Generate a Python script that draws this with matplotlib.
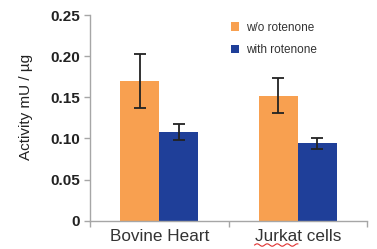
import numpy as np
import matplotlib
matplotlib.use("Agg")
import matplotlib.pyplot as plt

# --- Data ---
categories = ["Bovine Heart", "Jurkat cells"]
series_names = ["w/o rotenone", "with rotenone"]
without_rot = [0.170, 0.152]
without_err = [0.033, 0.021]
with_rot = [0.108, 0.094]
with_err = [0.010, 0.0065]
yticks = [0, 0.05, 0.10, 0.15, 0.20, 0.25]
ytick_labels = ["0", "0.05", "0.10", "0.15", "0.20", "0.25"]

orange = "#F8A050"
blue = "#1F3F99"
gray = "#A6A6A6"

plt.rcParams["font.family"] = ["Liberation Sans", "DejaVu Sans"]

fig = plt.figure(figsize=(3.77, 2.49), dpi=100)
ax = fig.add_axes([0.2387, 0.1137, 0.735, 0.826])

x = np.arange(len(categories))
w = 0.28
ax.bar(x - w / 2, without_rot, w, color=orange, label=series_names[0],
       yerr=without_err, error_kw=dict(ecolor="#222222", elinewidth=1.3, capsize=4.5, capthick=1.3))
ax.bar(x + w / 2, with_rot, w, color=blue, label=series_names[1],
       yerr=with_err, error_kw=dict(ecolor="#222222", elinewidth=1.3, capsize=4.5, capthick=1.3))

ax.set_xlim(-0.5, len(categories) - 0.5)
ax.set_ylim(0, 0.25)
ax.set_yticks(yticks)
ax.set_yticklabels(ytick_labels, fontsize=11, fontweight="bold", color="#222222")
ax.set_xticks(x)
ax.set_xticklabels(categories, fontsize=12.3, color="#333333")
ax.tick_params(axis="x", which="major", length=0, pad=6)
ax.set_xticks(np.arange(-0.5, len(categories)), minor=True)
ax.tick_params(axis="x", which="minor", length=4, color=gray, width=1)
ax.tick_params(axis="y", length=4, color=gray, width=1, pad=3)

for s in ["top", "right"]:
    ax.spines[s].set_visible(False)
for s in ["left", "bottom"]:
    ax.spines[s].set_color(gray)
    ax.spines[s].set_linewidth(1)

ax.set_ylabel("Activity mU / µg", fontsize=11, color="#222222")
ax.yaxis.set_label_coords(-0.205, 0.555)

ax.legend(loc="upper left", bbox_to_anchor=(0.47, 1.02), frameon=False,
          fontsize=8.5, handlelength=0.7, handleheight=0.7, handletextpad=0.6,
          labelspacing=0.9, labelcolor="#333333")

# spell-check squiggle under "Jurkat"
fig.canvas.draw()
lbl = ax.get_xticklabels()[1]
bb = lbl.get_window_extent()
x0 = bb.x0
x1 = bb.x0 + bb.width * 0.5
xs = np.linspace(x0, x1, 60)
ys = bb.y0 - 1 + 1.2 * np.sin((xs - x0) / 1.6)
inv = fig.transFigure.inverted()
pts = inv.transform(np.column_stack([xs, ys]))
fig.add_artist(plt.Line2D(pts[:, 0], pts[:, 1], color="#E03030", lw=0.8))

fig.savefig("out.png", dpi=100)
